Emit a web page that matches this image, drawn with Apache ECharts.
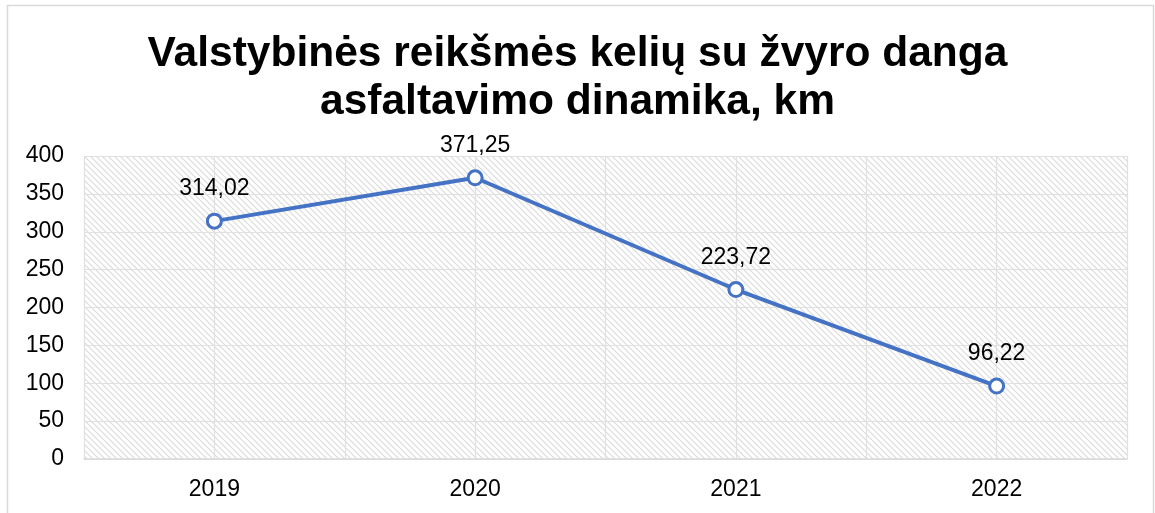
<!DOCTYPE html>
<html>
<head>
<meta charset="utf-8">
<script src="https://cdn.jsdelivr.net/npm/echarts@6/dist/echarts.min.js"></script>
<style>
  html, body { margin: 0; padding: 0; background: #fff; }
  #chart { width: 1155px; height: 513px; }
</style>
</head>
<body>
<div id="chart"></div>
<script>
const years = ["2019", "2020", "2021", "2022"];
const km = [314.02, 371.25, 223.72, 96.22];
const yTicks = [0, 50, 100, 150, 200, 250, 300, 350, 400];

// diagonal hatch fill for the plot area
function hatch() {
  const c = document.createElement("canvas");
  c.width = 6;
  c.height = 6;
  const g = c.getContext("2d");
  g.fillStyle = "#fff";
  g.fillRect(0, 0, 6, 6);
  g.strokeStyle = "#dadada";
  g.lineWidth = 1.1;
  g.beginPath();
  g.moveTo(-1, -1); g.lineTo(7, 7);
  g.moveTo(-4, 2); g.lineTo(4, 10);
  g.moveTo(2, -4); g.lineTo(10, 4);
  g.stroke();
  return { image: c, repeat: "repeat" };
}

const font = "Liberation Sans, Arial, sans-serif";
const chart = echarts.init(document.getElementById("chart"));
chart.setOption({
  animation: false,
  textStyle: { fontFamily: font },
  graphic: [{
    type: "rect",
    shape: { x: 7.5, y: 5.5, width: 1146, height: 520 },
    style: { fill: "none", stroke: "#d9d9d9", lineWidth: 1.5 },
    silent: true
  }],
  title: {
    text: "Valstybinės reikšmės kelių su žvyro danga\nasfaltavimo dinamika, km",
    left: "center",
    top: 25,
    textStyle: { fontSize: 42.5, fontWeight: "bold", color: "#000", lineHeight: 48, fontFamily: font }
  },
  grid: {
    left: 84, right: 28, top: 156, bottom: 54,
    show: true, borderWidth: 0,
    backgroundColor: hatch()
  },
  xAxis: [
    {
      type: "category",
      data: years,
      boundaryGap: true,
      axisLine: { lineStyle: { color: "#d9d9d9", width: 1.5 } },
      axisTick: { show: false },
      axisLabel: { color: "#000", fontSize: 23, margin: 19 },
      splitLine: { show: false }
    },
    {
      type: "category",
      data: ["", "", "", "", "", "", "", ""],
      position: "bottom",
      boundaryGap: true,
      axisLine: { show: false },
      axisTick: { show: false },
      axisLabel: { show: false },
      splitLine: { show: true, interval: 0, lineStyle: { color: "#e0e0e0", width: 1.2 } }
    }
  ],
  yAxis: {
    type: "value",
    min: yTicks[0],
    max: yTicks[yTicks.length - 1],
    interval: yTicks[1] - yTicks[0],
    axisLine: { show: false },
    axisTick: { show: false },
    axisLabel: { color: "#000", fontSize: 23, margin: 20 },
    splitLine: { lineStyle: { color: "#e0e0e0", width: 1.2 } }
  },
  series: [{
    type: "line",
    data: km,
    xAxisIndex: 0,
    symbol: "circle",
    symbolSize: 14,
    lineStyle: { color: "#4472C4", width: 4 },
    itemStyle: { color: "#fff", borderColor: "#4472C4", borderWidth: 3 },
    label: {
      show: true,
      position: "top",
      distance: 12,
      color: "#000",
      fontSize: 23,
      formatter: p => p.value.toFixed(2).replace(".", ",")
    }
  }]
});
</script>
</body>
</html>
